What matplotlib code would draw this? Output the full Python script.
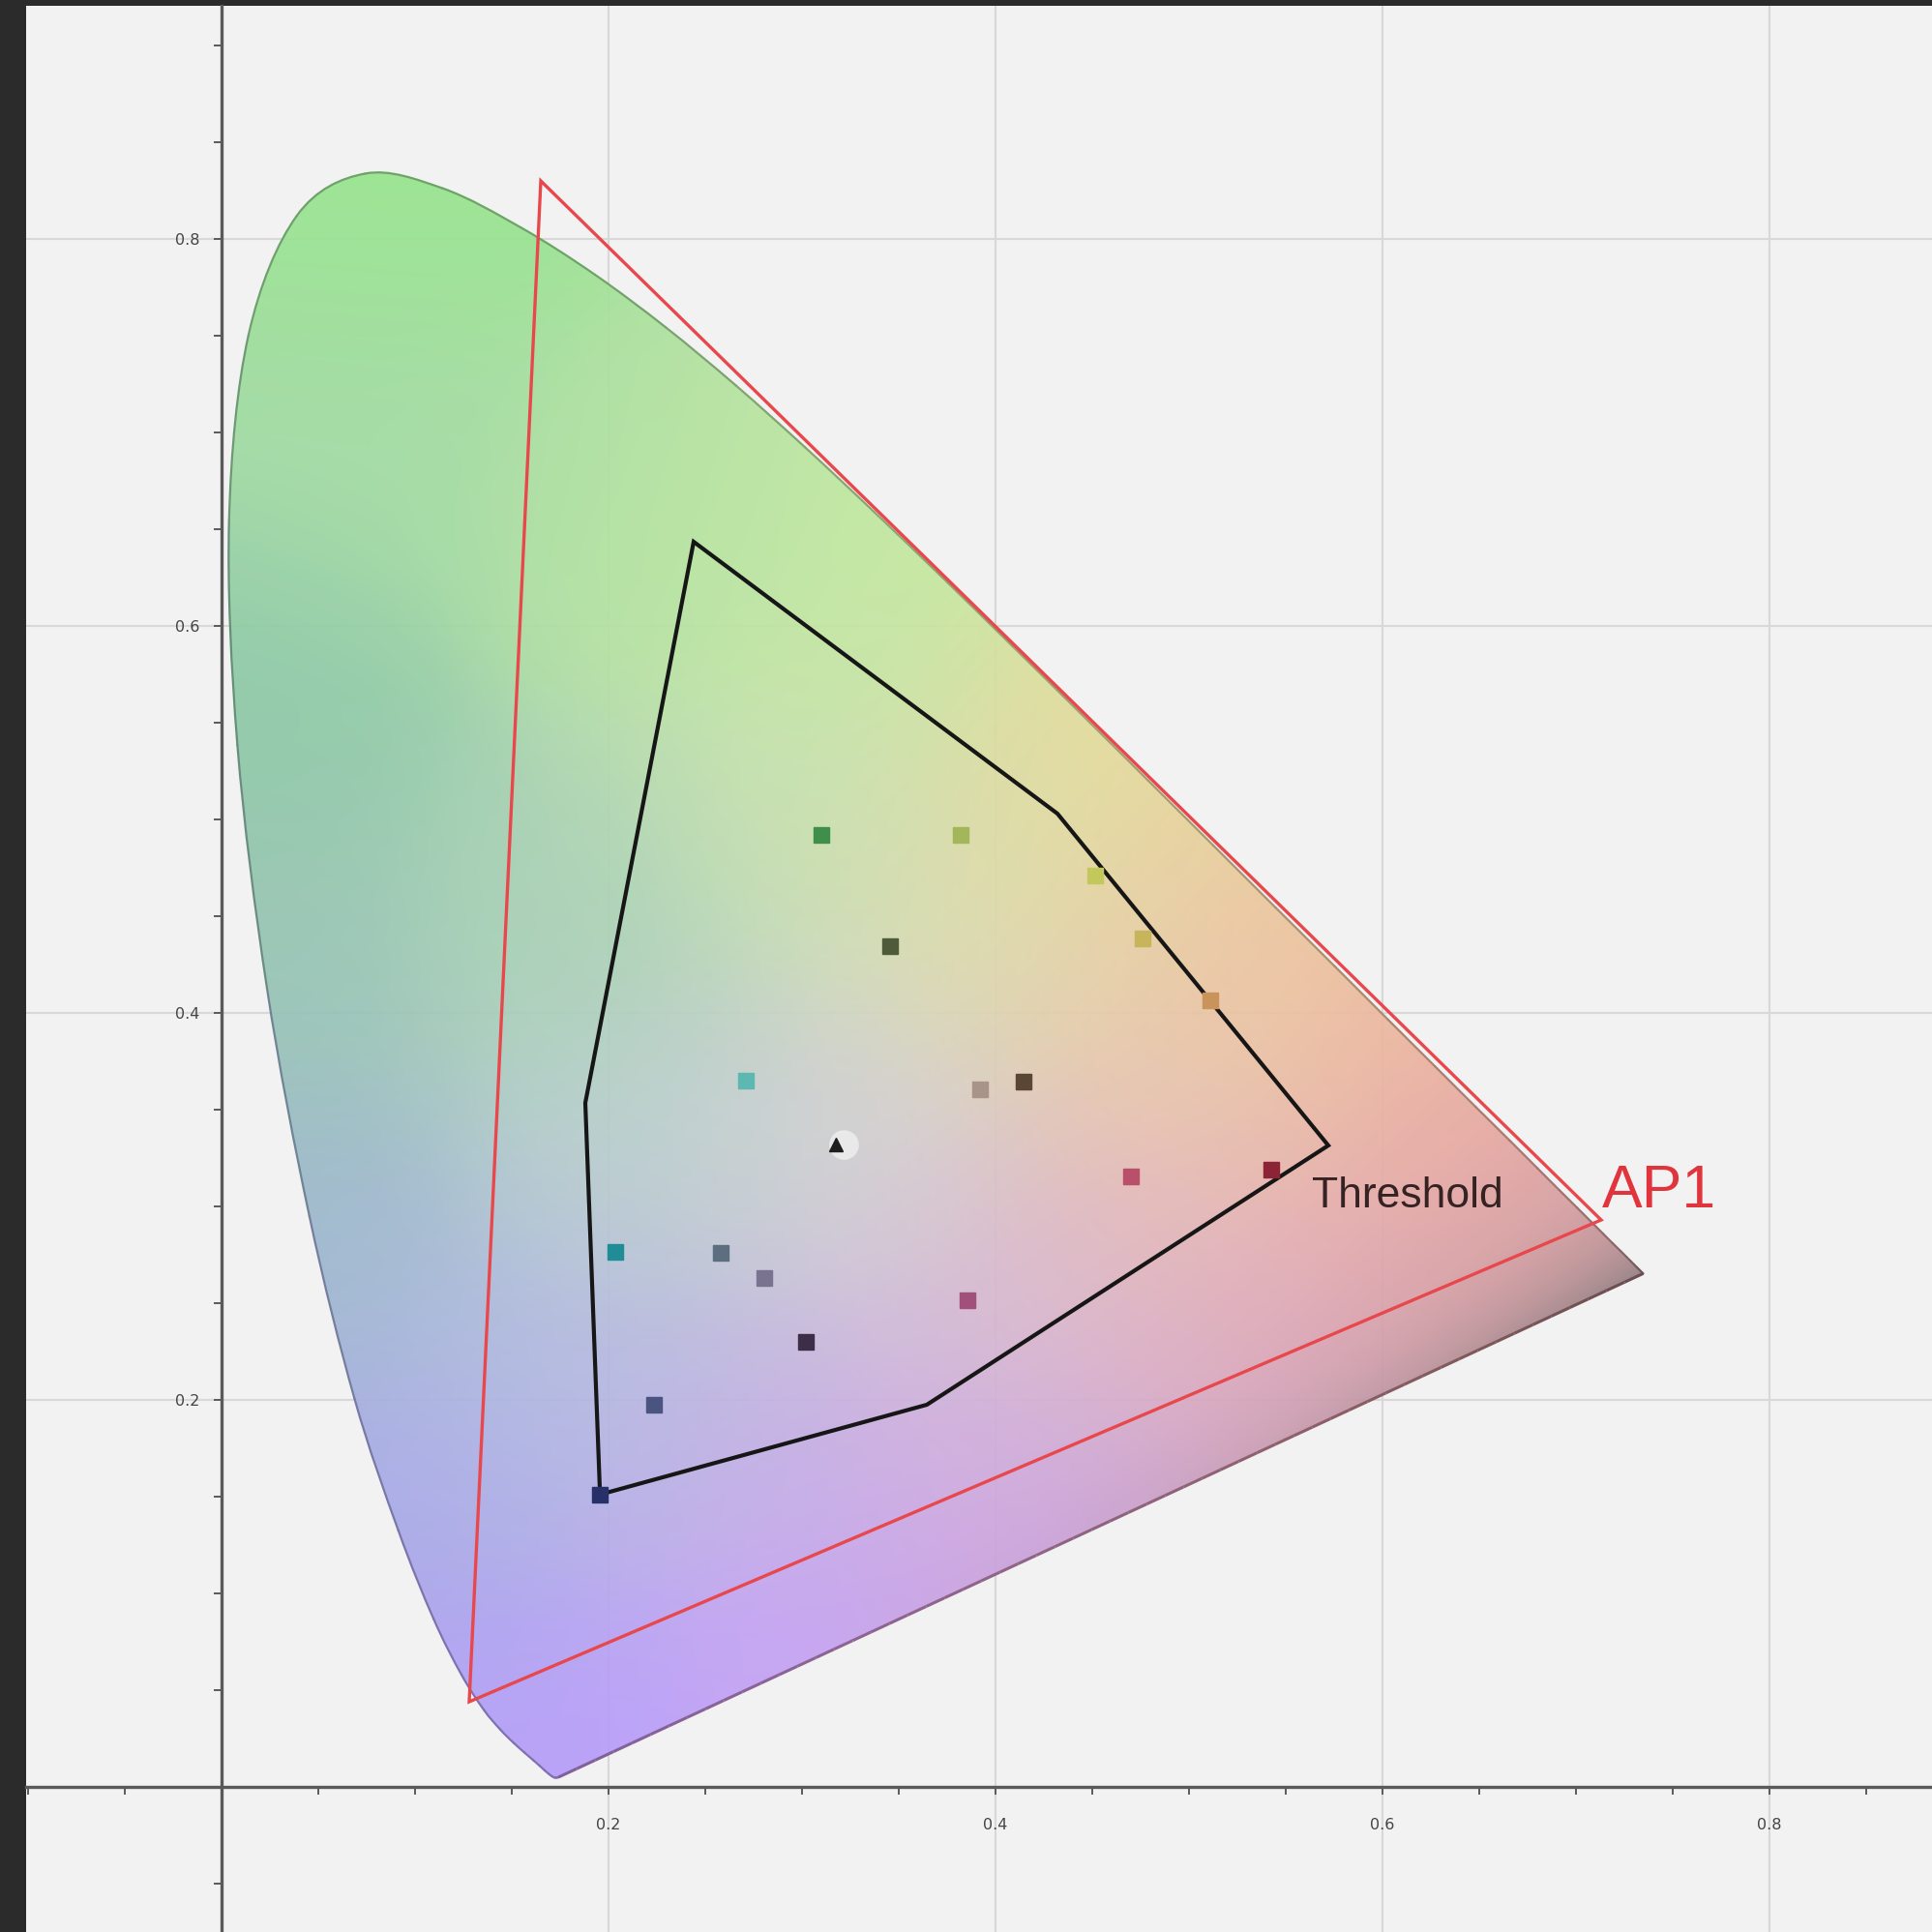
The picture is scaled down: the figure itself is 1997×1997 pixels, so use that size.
import numpy as np
import matplotlib
matplotlib.use('Agg')
import matplotlib.pyplot as plt
from matplotlib.patches import Polygon, PathPatch
from matplotlib.path import Path
from matplotlib.collections import LineCollection
import matplotlib.ticker as mticker

# CIE 1931 2-degree spectral locus, 380-700 nm every 5 nm
locus_x = [0.1741, 0.1740, 0.1738, 0.1736, 0.1733, 0.1730, 0.1726, 0.1721, 0.1714, 0.1703,
           0.1689, 0.1669, 0.1644, 0.1611, 0.1566, 0.1510, 0.1440, 0.1355, 0.1241, 0.1096,
           0.0913, 0.0687, 0.0454, 0.0235, 0.0082, 0.0039, 0.0139, 0.0389, 0.0743, 0.1142,
           0.1547, 0.1929, 0.2296, 0.2658, 0.3016, 0.3373, 0.3731, 0.4087, 0.4441, 0.4788,
           0.5125, 0.5448, 0.5752, 0.6029, 0.6270, 0.6482, 0.6658, 0.6801, 0.6915, 0.7006,
           0.7079, 0.7140, 0.7190, 0.7230, 0.7260, 0.7283, 0.7300, 0.7311, 0.7320, 0.7327,
           0.7334, 0.7340, 0.7344, 0.7346, 0.7347]
locus_y = [0.0050, 0.0050, 0.0049, 0.0049, 0.0048, 0.0048, 0.0048, 0.0048, 0.0051, 0.0058,
           0.0069, 0.0086, 0.0109, 0.0138, 0.0177, 0.0227, 0.0297, 0.0399, 0.0578, 0.0868,
           0.1327, 0.2007, 0.2950, 0.4127, 0.5384, 0.6548, 0.7502, 0.8120, 0.8338, 0.8262,
           0.8059, 0.7816, 0.7543, 0.7243, 0.6923, 0.6589, 0.6245, 0.5896, 0.5547, 0.5202,
           0.4866, 0.4544, 0.4242, 0.3965, 0.3725, 0.3514, 0.3340, 0.3197, 0.3083, 0.2993,
           0.2920, 0.2859, 0.2809, 0.2770, 0.2740, 0.2717, 0.2700, 0.2689, 0.2680, 0.2673,
           0.2666, 0.2660, 0.2656, 0.2654, 0.2653]

# AP1 primaries: R, G, B
ap1_x = [0.713, 0.165, 0.128]
ap1_y = [0.293, 0.830, 0.044]

# threshold hull
threshold_x = [0.244, 0.432, 0.572, 0.3645, 0.1956, 0.188]
threshold_y = [0.6435, 0.503, 0.3315, 0.1975, 0.1511, 0.3535]

# colour patches
patch_x = [0.310, 0.382, 0.4516, 0.4758, 0.5108, 0.3453, 0.2708, 0.3918, 0.4147,
           0.4701, 0.5427, 0.2033, 0.2580, 0.2803, 0.3020, 0.3854, 0.2237, 0.1956]
patch_y = [0.492, 0.492, 0.4708, 0.4383, 0.4064, 0.4345, 0.3650, 0.3606, 0.3644,
           0.3154, 0.3192, 0.2765, 0.2759, 0.2631, 0.2300, 0.2517, 0.1976, 0.1511]
patch_colors = ['#3f8f4a', '#a3b65a', '#c3c85c', '#c8b45a', '#c8945c', '#4f5a3a',
                '#5cb8b0', '#a89488', '#5a4634', '#b8506a', '#8c2436', '#1f8c96',
                '#5c6e80', '#7a7390', '#3e2d48', '#a0507a', '#4a5480', '#28306a']

white_x, white_y = 0.3173, 0.3319

# colour stops for the diagram fill (x, y, rgb)
fill_stops = [
    (0.08, 0.82, (150, 228, 140)), (0.07, 0.70, (160, 218, 162)),
    (0.02, 0.55, (140, 200, 165)), (0.02, 0.42, (150, 195, 180)),
    (0.04, 0.28, (155, 182, 205)), (0.09, 0.13, (165, 165, 232)),
    (0.16, 0.03, (180, 155, 250)), (0.17, 0.20, (175, 185, 225)),
    (0.18, 0.45, (165, 208, 178)), (0.22, 0.65, (175, 225, 158)),
    (0.32, 0.62, (195, 232, 158)), (0.30, 0.50, (198, 225, 175)),
    (0.22, 0.33, (182, 205, 205)), (0.32, 0.33, (212, 208, 212)),
    (0.40, 0.45, (220, 218, 172)), (0.45, 0.52, (228, 220, 150)),
    (0.53, 0.43, (240, 195, 150)), (0.50, 0.38, (232, 200, 175)),
    (0.62, 0.35, (238, 175, 155)), (0.48, 0.28, (228, 180, 185)),
    (0.27, 0.18, (192, 175, 228)), (0.38, 0.13, (205, 165, 230)),
    (0.40, 0.23, (212, 185, 212)), (0.55, 0.20, (222, 165, 192)),
    (0.62, 0.26, (228, 165, 175)), (0.30, 0.06, (195, 158, 248)),
    (0.45, 0.11, (208, 160, 218)), (0.70, 0.28, (225, 160, 165)),
]


def fill_color(px, py):
    sx = np.array([s[0] for s in fill_stops])
    sy = np.array([s[1] for s in fill_stops])
    sc = np.array([s[2] for s in fill_stops], dtype=float) / 255.0
    d2 = (px[..., None] - sx) ** 2 + (py[..., None] - sy) ** 2
    w = np.exp(-d2 / (2 * 0.06 ** 2)) + 1e-9
    rgb = (w[..., None] * sc).sum(-2) / w.sum(-1)[..., None]
    # grey shading toward the red end of the line of purples
    x0, y0 = locus_x[0], locus_y[0]
    x1, y1 = locus_x[-1], locus_y[-1]
    L = np.hypot(x1 - x0, y1 - y0)
    t = np.clip(((px - x0) * (x1 - x0) + (py - y0) * (y1 - y0)) / L ** 2, 0, 1)
    d = np.abs((px - x0) * (y1 - y0) - (py - y0) * (x1 - x0)) / L
    m = 0.72 * t ** 3 * np.exp(-d / 0.03)
    grey = np.array([118, 112, 116]) / 255.0
    rgb = rgb * (1 - m[..., None]) + grey * m[..., None]
    return np.clip(rgb, 0, 1)


def smooth_segments(pts):
    # Catmull-Rom -> cubic Bezier control points for each consecutive pair
    n = len(pts)
    out = []
    for i in range(n - 1):
        p0 = pts[max(i - 1, 0)]
        p1 = pts[i]
        p2 = pts[i + 1]
        p3 = pts[min(i + 2, n - 1)]
        c1 = p1 + (p2 - p0) / 6.0
        c2 = p2 - (p3 - p1) / 6.0
        out.append((p1, c1, c2, p2))
    return out


fig = plt.figure(figsize=(19.97, 19.97), dpi=100, facecolor='#2b2b2b')
ax = fig.add_axes([27 / 1997, 0, 1970 / 1997, 1991 / 1997])
ax.set_facecolor('#f2f2f2')
ax.set_xlim(-0.101, 0.884)
ax.set_ylim(-0.075, 0.9205)

# axes through the origin
for side in ['top', 'right']:
    ax.spines[side].set_visible(False)
for side in ['left', 'bottom']:
    ax.spines[side].set_position(('data', 0))
    ax.spines[side].set_color('#5a5a5a')
    ax.spines[side].set_linewidth(2.4)
    ax.spines[side].set_zorder(2.5)

ax.xaxis.set_major_locator(mticker.FixedLocator([0.2, 0.4, 0.6, 0.8]))
ax.yaxis.set_major_locator(mticker.FixedLocator([0.2, 0.4, 0.6, 0.8]))
ax.xaxis.set_minor_locator(mticker.MultipleLocator(0.05))
ax.yaxis.set_minor_locator(mticker.MultipleLocator(0.05))
ax.xaxis.set_major_formatter(mticker.FormatStrFormatter('%.1f'))
ax.yaxis.set_major_formatter(mticker.FormatStrFormatter('%.1f'))
ax.tick_params(which='both', direction='out', length=6, width=1.4, color='#5a5a5a')
ax.tick_params(axis='x', which='major', pad=17, labelsize=11.5, labelcolor='#444444')
ax.tick_params(axis='y', which='major', pad=10, labelsize=11.5, labelcolor='#444444')
ax.grid(which='major', color='#d8d8d8', linewidth=1.5, zorder=0)
ax.set_axisbelow(True)

# smooth closed outline of the chromaticity region
locus_pts = np.column_stack([locus_x, locus_y])
beziers = smooth_segments(locus_pts)
verts = [tuple(locus_pts[0])]
codes = [Path.MOVETO]
for p1, c1, c2, p2 in beziers:
    verts += [tuple(c1), tuple(c2), tuple(p2)]
    codes += [Path.CURVE4] * 3
verts += [tuple(locus_pts[0]), tuple(locus_pts[0])]
codes += [Path.LINETO, Path.CLOSEPOLY]
region = PathPatch(Path(verts, codes), transform=ax.transData,
                   facecolor='none', edgecolor='none')
ax.add_patch(region)

xs = np.linspace(0.0, 0.74, 600)
ys = np.linspace(0.0, 0.84, 680)
gx, gy = np.meshgrid(xs, ys)
img = fill_color(gx, gy)
im = ax.imshow(img, extent=[0.0, 0.74, 0.0, 0.84], origin='lower',
               interpolation='bilinear', alpha=0.92, zorder=1, aspect='auto')
im.set_clip_path(region)

# outline of the spectral locus, tinted by the fill
edge_cols = fill_color(locus_pts[:, 0], locus_pts[:, 1]) * 0.72
for (p1, c1, c2, p2), col in zip(beziers, edge_cols[:-1]):
    seg = Path([tuple(p1), tuple(c1), tuple(c2), tuple(p2)],
               [Path.MOVETO, Path.CURVE4, Path.CURVE4, Path.CURVE4])
    ax.add_patch(PathPatch(seg, facecolor='none', edgecolor=col,
                           linewidth=1.6, zorder=2, capstyle='round'))

# line of purples
pt = np.linspace(0, 1, 60)
px = locus_x[-1] + (locus_x[0] - locus_x[-1]) * pt
py = locus_y[-1] + (locus_y[0] - locus_y[-1]) * pt
pcols = fill_color(px, py) * 0.62
pcols[:, 0] = np.clip(pcols[:, 0] * 1.15, 0, 1)
psegs = [[(px[i], py[i]), (px[i + 1], py[i + 1])] for i in range(len(px) - 1)]
ax.add_collection(LineCollection(psegs, colors=pcols[:-1], linewidths=2.2, zorder=2))

# AP1 gamut
ax.add_patch(Polygon(np.column_stack([ap1_x, ap1_y]), closed=True, fill=False,
                     edgecolor='#e8474c', linewidth=2.4, zorder=3))

# threshold hull
ax.add_patch(Polygon(np.column_stack([threshold_x, threshold_y]), closed=True,
                     fill=False, edgecolor='#161616', linewidth=3.0,
                     joinstyle='miter', zorder=4))

# patches
for x, y, c in zip(patch_x, patch_y, patch_colors):
    ax.plot(x, y, marker='s', markersize=11, color=c, markeredgecolor=c,
            linestyle='none', zorder=5)

ax.plot(white_x + 0.004, white_y, marker='o', markersize=22, color='white',
        alpha=0.55, markeredgecolor='none', linestyle='none', zorder=5)
ax.plot(white_x, white_y, marker='^', markersize=10, color='#1e1e1e',
        markeredgecolor='#1e1e1e', linestyle='none', zorder=6)

ax.text(0.5635, 0.2995, 'Threshold', fontsize=32, color='#352222',
        family='Liberation Sans', ha='left', va='baseline', zorder=7)
ax.text(0.7135, 0.2995, 'AP1', fontsize=45, color='#e0353c',
        family='Liberation Sans', ha='left', va='baseline', zorder=7)

fig.savefig('out.png', dpi=100, facecolor=fig.get_facecolor())
